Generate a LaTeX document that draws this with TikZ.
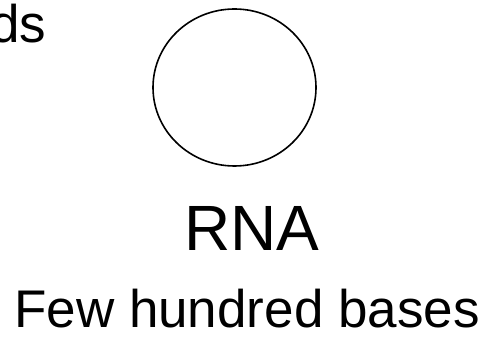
\documentclass[tikz,border=0pt]{standalone}
\usepackage{fontspec}
\setmainfont{Liberation Sans}
\usetikzlibrary{shapes.geometric}
\begin{document}
\begin{tikzpicture}[x=1pt, y=1pt, big/.style={font=\fontsize{64}{70}\selectfont, inner sep=0pt},
        small/.style={font=\fontsize{53}{60}\selectfont, inner sep=0pt}]
        \useasboundingbox (0,0) rectangle (487,337);
        \node[draw, ellipse, line width=1.6pt, minimum width=163pt, minimum height=157pt, inner sep=0pt] (rna) at (234.5,249.5) {};
        \node[big, anchor=base] (name) at (252,86) {RNA};
        \node[small, anchor=base] (size) at (247,9) {Few hundred bases};
        \node[small, anchor=base east] (prev) at (46.5,294) {ds};
    \end{tikzpicture}
\end{document}
